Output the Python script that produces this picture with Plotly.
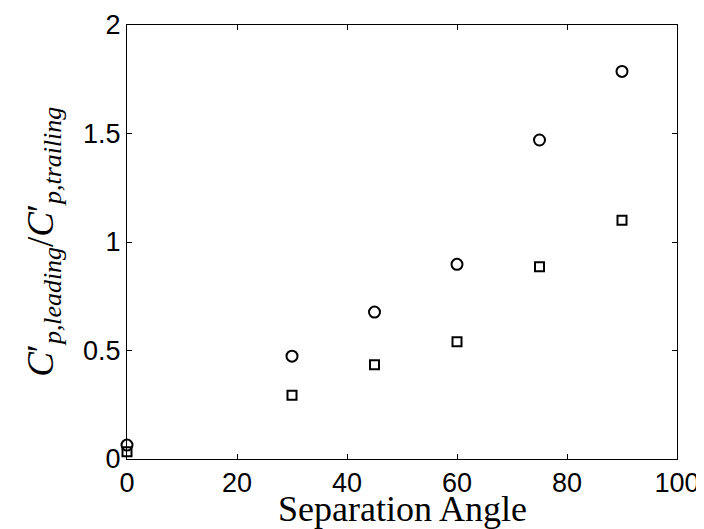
import plotly.graph_objects as go

angles = [0, 30, 45, 60, 75, 90]
ratio_circle = [0.064, 0.474, 0.677, 0.897, 1.47, 1.786]
ratio_square = [0.033, 0.294, 0.434, 0.54, 0.886, 1.10]
x_ticks = [0, 20, 40, 60, 80, 100]
y_ticks = [0, 0.5, 1, 1.5, 2]
y_tick_labels = ["0", "0.5", "1", "1.5", "2"]

fig = go.Figure()
fig.add_trace(go.Scatter(x=angles, y=ratio_circle, mode="markers",
                         marker=dict(symbol="circle-open", size=11, color="black",
                                     line=dict(width=2, color="black")),
                         cliponaxis=False, showlegend=False))
fig.add_trace(go.Scatter(x=angles, y=ratio_square, mode="markers",
                         marker=dict(symbol="square-open", size=9, color="black",
                                     line=dict(width=2, color="black")),
                         cliponaxis=False, showlegend=False))

axis_common = dict(showgrid=False, zeroline=False, showline=True, linecolor="black",
                   linewidth=1, mirror="ticks", ticks="inside", ticklen=5, automargin=False,
                   tickcolor="black", tickfont=dict(family="Liberation Sans, Arial", size=27, color="black"))

fig.update_xaxes(range=[0, 100], tickvals=x_ticks, ticktext=[str(v) for v in x_ticks], **axis_common)
fig.update_yaxes(range=[0, 2], tickvals=y_ticks, ticktext=y_tick_labels, **axis_common)

fig.add_annotation(xref="paper", yref="paper", x=0.5, y=-0.115, xanchor="center", yanchor="middle",
                   showarrow=False, text="Separation Angle",
                   font=dict(family="Liberation Serif, Times New Roman", size=36, color="black"))

fig.add_annotation(xref="paper", yref="paper", x=-0.153, y=0.5, xanchor="center", yanchor="middle",
                   textangle=-90, showarrow=False,
                   text="<i>C</i>′<sub><i>p,leading</i></sub>/<i>C</i>′<sub><i>p,trailing</i></sub>",
                   font=dict(family="Liberation Serif, Times New Roman", size=37, color="black"))

fig.update_layout(width=704, height=529, paper_bgcolor="white", plot_bgcolor="white",
                  margin=dict(l=119, r=35, t=17, b=78))

fig.write_html("out.html")
